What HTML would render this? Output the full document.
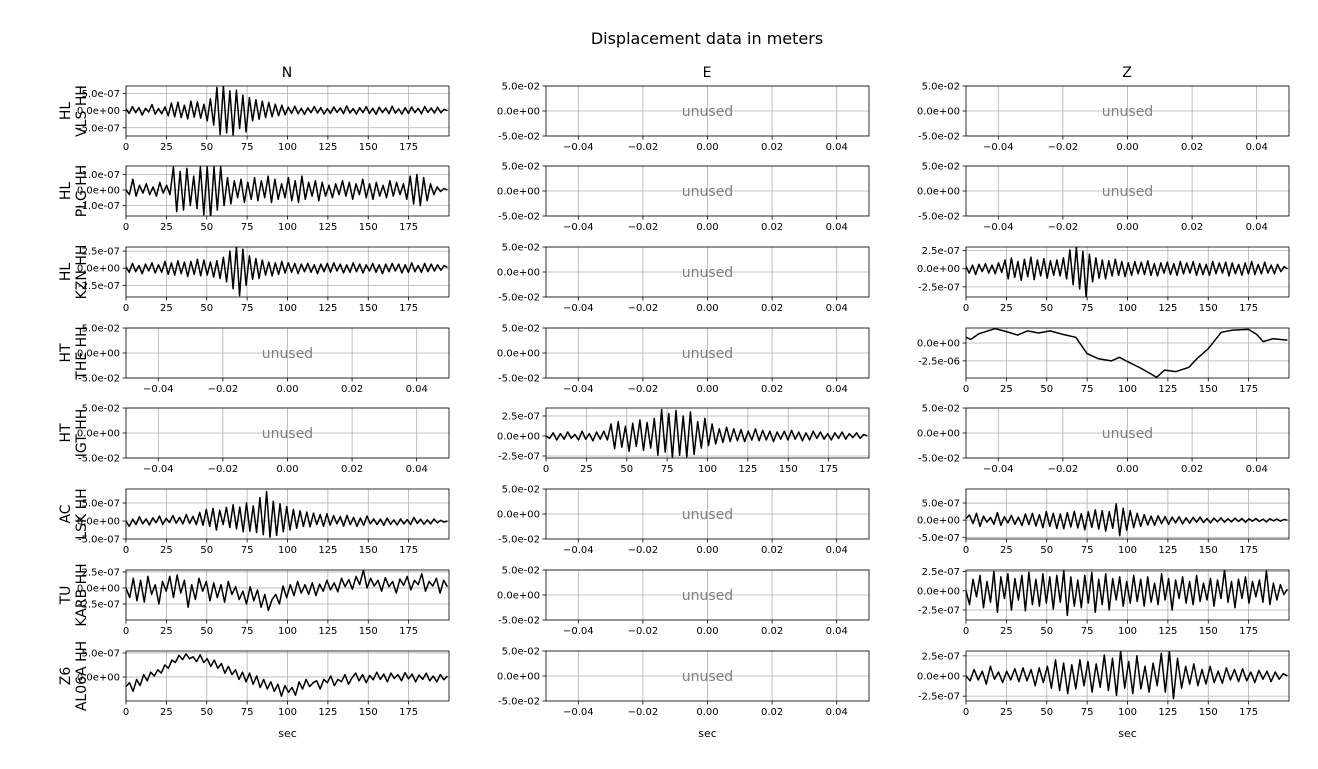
<!DOCTYPE html>
<html><head><meta charset="utf-8">
<style>
html,body{margin:0;padding:0;background:#fff;}
svg{display:block;font-family:"DejaVu Sans","Liberation Sans",sans-serif;}
</style></head>
<body>
<svg id="fig" width="1318" height="769" viewBox="0 0 1318 769" xmlns="http://www.w3.org/2000/svg">
<rect width="1318" height="769" fill="#fff"/>
<text x="707" y="44" font-size="16" text-anchor="middle">Displacement data in meters</text>
<text x="287" y="77" font-size="14" text-anchor="middle">N</text>
<text x="707" y="77" font-size="14" text-anchor="middle">E</text>
<text x="1127" y="77" font-size="14" text-anchor="middle">Z</text>
</svg>
<script>
const stations = [["HL","VLS HH"],["HL","PLG HH"],["HL","KZN HH"],["HT","THE HH"],["HT","IGT HH"],["AC","LSK HH"],["TU","KARB HH"],["Z6","AL06A HH"]];
const xTicksUsed = [0,25,50,75,100,125,150,175];
const xTicksUnused = [-0.04,-0.02,0,0.02,0.04];
const xTickLabelsUnused = ["\u22120.04","\u22120.02","0.00","0.02","0.04"];
const yTicksUnused = [0.05,0,-0.05];
const yTickLabelsUnused = ["5.0e-02","0.0e+00","-5.0e-02"];

const vlsN = [0.5,-0.8,1.2,-0.6,0.9,-1.3,0.7,-0.4,1.8,-1.0,0.6,-0.9,1.1,-1.5,2.2,-1.8,2.5,-2.0,1.6,-2.4,2.8,-1.9,2.6,-2.2,1.9,-3.0,3.5,-4.2,6.8,-7.0,7.2,-6.5,5.8,-7.1,6.0,-5.2,4.5,-6.2,3.8,-3.0,3.2,-2.5,2.8,-2.0,2.4,-1.8,1.9,-1.5,1.6,-1.2,1.0,-0.8,1.3,-0.9,0.7,-1.1,0.8,-0.6,1.2,-0.7,0.9,-1.0,0.6,-0.8,1.1,-0.5,0.8,-0.9,1.4,-0.7,0.6,-1.0,0.9,-0.6,1.2,-0.8,0.7,-1.1,1.0,-0.6,0.8,-0.9,1.3,-0.7,0.5,-1.0,0.9,-0.8,1.1,-0.6,0.7,-0.9,1.2,-0.5,0.8,-0.7,1.0,-0.6,0.4,0.0];
const plgN = [0,-0.3,0.7,-0.4,0.3,-0.2,0.4,-0.3,0.2,-0.4,0.5,-0.2,0.3,-0.3,1.5,-1.4,1.2,-1.3,1.4,-1.0,0.9,-1.2,1.5,-1.6,1.5,-1.8,1.5,-1.3,1.5,-1.0,0.8,-0.9,0.6,-0.5,0.7,-0.8,0.5,-0.6,0.8,-0.7,0.6,-0.5,0.9,-0.8,0.7,-0.6,0.4,-0.5,0.8,-0.7,0.6,-0.8,0.9,-0.6,0.5,-0.4,0.6,-0.7,0.5,-0.4,0.3,-0.5,0.4,-0.3,0.6,-0.4,0.5,-0.6,0.4,-0.3,0.7,-0.5,0.4,-0.6,0.5,-0.4,0.3,-0.5,0.6,-0.4,0.5,-0.3,0.4,-0.6,0.9,-0.9,1.0,-1.0,0.8,-0.7,0.4,-0.3,0.2,-0.1,0.1,0];
const kznN = [0.2,-0.6,0.7,-0.5,0.4,-0.8,0.6,-0.4,0.8,-0.7,0.5,-0.6,1.0,-0.9,0.8,-1.0,1.1,-0.8,0.9,-1.2,1.0,-0.9,1.3,-1.1,1.2,-1.0,0.9,-1.3,1.1,-1.5,1.6,-2.0,2.5,-3.0,3.1,-4.0,2.8,-2.5,1.8,-1.6,1.4,-1.5,1.2,-1.0,0.9,-1.1,0.8,-0.9,1.0,-0.7,0.8,-0.6,0.7,-0.8,0.6,-0.5,0.7,-0.6,0.5,-0.8,0.6,-0.5,0.7,-0.6,0.8,-0.4,0.6,-0.7,0.5,-0.6,0.8,-0.5,0.6,-0.7,0.5,-0.4,0.7,-0.6,0.5,-0.8,0.6,-0.5,0.7,-0.4,0.6,-0.7,0.5,-0.6,0.8,-0.5,0.4,-0.6,0.7,-0.5,0.6,-0.4,0.5,-0.3,0.4,0.1];
const kznZ = [0.3,-0.6,0.5,-0.8,0.6,-0.4,0.7,-0.6,0.5,-0.7,0.8,-0.5,1.2,-1.4,1.5,-1.2,1.0,-1.6,1.3,-1.1,1.6,-1.5,1.2,-1.0,1.4,-1.3,1.1,-0.9,1.2,-1.0,1.5,-1.4,2.6,-2.2,3.0,-2.8,2.4,-3.9,2.0,-1.8,1.5,-1.3,1.2,-1.4,1.1,-1.0,1.3,-0.9,1.0,-1.1,0.8,-0.9,1.0,-0.7,0.9,-0.8,1.1,-0.9,0.7,-1.0,0.8,-0.6,0.9,-0.8,0.7,-0.9,1.0,-0.7,0.8,-0.6,1.0,-0.9,0.7,-0.8,0.6,-0.9,1.0,-0.7,0.8,-0.6,0.9,-1.0,0.8,-0.7,0.6,-0.9,0.8,-0.7,1.0,-0.8,0.6,-0.7,0.9,-0.6,0.5,-0.7,0.6,-0.4,0.3,0.0];
const theZTimes = [0,3,8,18,25,32,38,45,52,60,68,75,82,90,95,100,108,115,118,123,130,138,143,150,158,165,175,180,184,190,199];
const theZ = [0.8,0.5,1.3,2.0,1.6,1.1,1.7,1.4,1.7,1.2,0.8,-1.5,-2.2,-2.5,-2.0,-2.6,-3.5,-4.4,-4.8,-3.8,-4.0,-3.4,-2.2,-0.8,1.5,1.8,1.9,1.2,0.2,0.6,0.4];
const igtE = [0,-0.3,0.4,-0.5,0.3,-0.4,0.5,-0.3,0.2,-0.5,0.6,-0.4,0.3,-0.6,0.5,-0.4,0.6,-0.5,1.5,-1.6,1.8,-1.4,1.2,-1.9,1.6,-1.3,2.0,-1.8,1.7,-1.5,2.2,-2.4,3.3,-2.0,2.8,-2.7,3.2,-2.4,2.5,-2.6,3.0,-2.3,1.8,-1.5,2.2,-1.2,1.5,-1.0,0.9,-0.8,1.1,-0.7,0.9,-0.6,0.8,-0.7,0.6,-0.5,0.9,-0.6,0.7,-0.5,0.6,-0.7,0.5,-0.4,0.6,-0.5,0.7,-0.4,0.5,-0.6,0.4,-0.5,0.6,-0.3,0.5,-0.4,0.3,-0.5,0.4,-0.3,0.5,-0.4,0.3,-0.2,0.4,-0.3,0.2,0.0];
const lskN = [0,-1.5,0.5,-1.0,1.2,-0.8,0.6,-1.1,0.9,-0.5,1.4,-0.9,0.7,-0.4,1.5,-0.6,1.0,-0.8,1.8,-0.7,1.3,-1.0,2.4,-1.2,3.2,-1.5,3.5,-2.5,3.0,-1.0,3.8,-1.8,4.5,-2.2,3.9,-3.0,5.0,-2.8,4.2,-3.2,6.5,-3.8,8.2,-4.5,5.5,-4.0,4.8,-3.0,4.0,-2.5,3.2,-2.0,2.8,-1.5,2.5,-1.6,2.2,-1.0,1.8,-1.5,2.0,-1.2,1.5,-0.8,1.2,-1.4,1.6,-1.0,1.0,-1.5,0.8,-1.2,1.4,-0.8,0.6,-1.0,0.5,-1.2,0.8,-0.9,0.3,-1.1,0.6,-0.8,0.4,-1.0,1.0,-0.7,0.5,-0.9,0.3,-0.8,0.6,-0.5,0.2,-0.3,0.0];
const lskZ = [0.5,1.5,-1.0,2.0,-1.8,1.2,-0.6,0.8,-1.2,2.2,-1.5,1.0,-0.8,1.4,-1.2,0.9,-1.6,1.8,-1.3,2.0,-1.7,1.6,-2.2,2.5,-1.8,2.0,-2.4,1.8,-2.5,2.2,-2.0,2.6,-2.3,1.9,-2.8,2.4,-2.1,3.0,-2.6,2.8,-3.2,2.5,-2.4,4.8,-4.5,3.5,-3.0,2.8,-2.2,2.0,-1.8,1.6,-1.4,1.2,-1.5,1.3,-1.0,1.1,-1.2,0.9,-0.8,1.0,-1.1,0.7,-0.9,0.8,-0.6,0.9,-0.7,0.5,-0.8,0.6,-0.5,0.7,-0.6,0.4,-0.5,0.6,-0.4,0.5,-0.6,0.4,-0.3,0.5,-0.4,0.3,-0.5,0.4,-0.2,0.3,-0.3,0.2,0.0];
const karbN = [0,-1.5,1.5,-2.0,1.2,-2.2,1.8,-1.0,0.5,-2.5,1.0,-0.5,1.8,-1.5,2.0,-0.8,1.2,-3.0,0.5,-1.8,1.5,-0.5,1.0,-2.0,0.8,-1.5,0.5,-2.2,1.0,-1.0,0.2,-1.8,-0.5,-2.5,0.2,-2.0,-0.3,-3.0,-1.0,-3.5,-1.8,-1.0,-2.5,0.3,-1.5,0.5,-1.2,1.0,-0.8,0.5,-1.0,0.8,-1.2,0.6,-0.5,1.2,-0.3,0.8,-0.6,1.5,0.2,1.3,-0.2,1.8,0.5,2.8,0.0,1.5,0.3,1.2,-0.5,1.6,0.2,1.0,-0.8,1.4,0.4,1.8,-0.3,1.2,0.5,2.2,-0.5,1.0,0.3,1.5,-0.8,1.2,0.2];
const karbZ = [0,-1.8,1.5,-0.8,2.0,-2.2,1.2,-1.5,2.5,-2.8,1.8,-1.0,2.2,-2.5,1.6,-1.2,2.0,-2.6,2.4,-1.8,1.5,-2.0,2.2,-1.6,1.8,-2.4,2.0,-1.5,2.6,-3.2,1.8,-2.0,1.4,-2.2,2.0,-1.6,2.4,-2.8,1.5,-1.8,2.2,-2.5,1.6,-1.2,1.8,-2.0,1.2,-1.6,2.0,-1.4,1.5,-2.0,1.8,-1.5,1.0,-1.8,2.2,-1.2,1.6,-2.5,1.4,-1.0,1.8,-1.6,1.2,-1.8,2.0,-1.4,1.0,-1.2,1.6,-2.0,1.4,-1.0,2.7,-1.5,1.2,-2.2,1.5,-1.0,1.8,-1.6,1.2,-0.8,1.4,-1.5,2.6,-1.8,1.0,-1.2,0.8,-0.5,0.2];
const al06aN = [-2.0,-1.2,-3.0,-0.5,-1.8,0.5,-0.8,1.0,0.2,1.5,0.8,2.5,1.8,3.5,3.0,4.5,3.6,4.8,3.8,4.2,3.2,4.6,3.0,3.8,2.2,3.5,1.8,2.8,0.8,2.2,0.5,1.5,-0.5,1.0,-1.0,0.8,-1.5,0.2,-2.2,-0.5,-2.5,-1.0,-3.0,-1.5,-4.0,-1.8,-3.2,-2.2,-3.8,-1.0,-2.5,-0.5,-2.0,-1.2,-0.8,-2.5,-0.5,-1.2,0.2,-1.8,-0.5,-1.0,0.5,-1.5,-0.2,0.8,-0.8,0.5,-1.2,0.3,-0.6,1.0,-0.5,0.6,-1.0,0.8,-0.3,0.5,-0.8,0.9,-0.4,0.6,-1.0,0.4,-0.5,0.8,-0.8,0.2,-1.0,0.5,-0.6,0.2];
const al06aZ = [0,-0.6,0.8,-0.5,0.6,-1.0,1.2,-0.4,0.5,-0.8,0.6,-0.5,0.9,-0.7,1.0,-0.6,0.8,-1.2,1.0,-0.8,1.2,-1.5,2.0,-1.8,1.6,-2.2,1.4,-1.6,2.0,-1.2,1.8,-2.0,1.5,-1.4,2.6,-1.8,2.2,-2.4,3.1,-1.5,1.8,-2.2,2.5,-1.6,1.2,-2.0,1.6,-1.2,2.8,-2.0,3.1,-2.8,2.2,-1.5,1.2,-1.0,1.5,-1.2,0.8,-1.0,1.2,-0.8,0.6,-0.9,1.0,-0.5,0.8,-0.7,0.9,-0.6,0.5,-0.8,0.7,-0.4,0.6,-0.7,0.5,-0.4,0.3,0.0];

// panel definitions: [row, col, values, times|null, ylimLow, ylimHigh, yticks, yticklabels]  (values in tick units)
const panels = [
 [0,0,vlsN,null,-7.4,7.2,[5,0,-5],["5.0e-07","0.0e+00","-5.0e-07"]],
 [1,0,plgN,null,-1.68,1.55,[1,0,-1],["1.0e-07","0.0e+00","-1.0e-07"]],
 [2,0,kznN,null,-4.2,3.1,[2.5,0,-2.5],["2.5e-07","0.0e+00","-2.5e-07"]],
 [2,2,kznZ,null,-3.9,3.0,[2.5,0,-2.5],["2.5e-07","0.0e+00","-2.5e-07"]],
 [3,2,theZ,theZTimes,-4.9,2.1,[0,-2.5],["0.0e+00","-2.5e-06"]],
 [4,1,igtE,null,-2.75,3.5,[2.5,0,-2.5],["2.5e-07","0.0e+00","-2.5e-07"]],
 [5,0,lskN,null,-5.0,8.9,[5,0,-5],["5.0e-07","0.0e+00","-5.0e-07"]],
 [5,2,lskZ,null,-5.5,9.1,[5,0,-5],["5.0e-07","0.0e+00","-5.0e-07"]],
 [6,0,karbN,null,-5.0,2.8,[2.5,0,-2.5],["2.5e-07","0.0e+00","-2.5e-07"]],
 [6,2,karbZ,null,-3.8,2.7,[2.5,0,-2.5],["2.5e-07","0.0e+00","-2.5e-07"]],
 [7,0,al06aN,null,-5.0,5.4,[5,0],["5.0e-07","0.0e+00"]],
 [7,2,al06aZ,null,-3.1,3.1,[2.5,0,-2.5],["2.5e-07","0.0e+00","-2.5e-07"]]
];

const NS = "http://www.w3.org/2000/svg";
const svg = document.getElementById("fig");
const colX = [126,546,966], rowY = [86,166,247,328,408,489,570,651], W = 323, H = 50;
const colNames = ["n","e","z"];
function mk(tag, attrs, parent){const e=document.createElementNS(NS,tag);for(const k in attrs)e.setAttribute(k,attrs[k]);(parent||svg).appendChild(e);return e;}

for (let r=0;r<8;r++){
  const cy = rowY[r]+H/2;
  const t1 = mk("text",{x:0,y:0,"font-size":14,"text-anchor":"middle",transform:`translate(70,${cy}) rotate(-90)`});
  
  
  t1.textContent = stations[r][0];
  const t2 = mk("text",{x:0,y:0,"font-size":14,"text-anchor":"middle",transform:`translate(86,${cy}) rotate(-90)`});
  
  
  t2.textContent = stations[r][1];
  for (let c=0;c<3;c++){
    const p = panels.find(q=>q[0]===r&&q[1]===c);
    const x0=colX[c], y0=rowY[r];
    const g = mk("g",{});
    
    
    let xs, ys, xt, xl, yt, yl;
    if (p){
      xs = v => x0 + v/200*W;
      ys = v => y0 + H - (v-p[4])/(p[5]-p[4])*H;
      xt = xTicksUsed; xl = xTicksUsed.map(String); yt = p[6]; yl = p[7];
    } else {
      xs = v => x0 + (v+0.05)/0.1*W;
      ys = v => y0 + H - (v+0.05)/0.1*H;
      xt = xTicksUnused; xl = xTickLabelsUnused; yt = yTicksUnused; yl = yTickLabelsUnused;
    }
    xt.forEach((v,i)=>{
      const X=xs(v);
      const gl=mk("line",{x1:X,x2:X,y1:y0,y2:y0+H,stroke:"#b0b0b0","stroke-width":0.8},g);
      
      
      mk("line",{x1:X,x2:X,y1:y0+H,y2:y0+H+3.5,stroke:"#000","stroke-width":0.8},g);
      const tl=mk("text",{x:X,y:y0+H+14,"font-size":10,"text-anchor":"middle"},g);
      
      
      tl.textContent=xl[i];
    });
    yt.forEach((v,i)=>{
      const Y=ys(v);
      const gl=mk("line",{x1:x0,x2:x0+W,y1:Y,y2:Y,stroke:"#b0b0b0","stroke-width":0.8},g);
      
      
      mk("line",{x1:x0-3.5,x2:x0,y1:Y,y2:Y,stroke:"#000","stroke-width":0.8},g);
      const tl=mk("text",{x:x0-6,y:Y+3.5,"font-size":10,"text-anchor":"end"},g);
      
      
      tl.textContent=yl[i];
    });
    if (p){
      const vals=p[2], n=vals.length;
      const times = p[3] || vals.map((_,i)=>i*199/(n-1));
      const d = vals.map((v,i)=>(i?"L":"M")+xs(times[i]).toFixed(1)+","+ys(v).toFixed(1)).join("");
      const cp = "clip"+r+c;
      const cl = mk("clipPath",{id:cp},g); mk("rect",{x:x0,y:y0,width:W,height:H},cl);
      const path = mk("path",{d:d,fill:"none",stroke:"#000","stroke-width":1.5,"stroke-linejoin":"round","clip-path":`url(#${cp})`},g);
      
      
    } else {
      const u = mk("text",{x:x0+W/2,y:y0+H/2+5,"font-size":14,"text-anchor":"middle",fill:"#808080"},g);
      
      
      u.textContent="unused";
    }
    const fr = mk("rect",{x:x0,y:y0,width:W,height:H,fill:"none",stroke:"#000","stroke-width":0.8},g);
    
    
  }
}
for (let c=0;c<3;c++){
  const s = mk("text",{x:colX[c]+W/2,y:737,"font-size":11,"text-anchor":"middle"});
  
  
  s.textContent="sec";
}
</script>
</body></html>
